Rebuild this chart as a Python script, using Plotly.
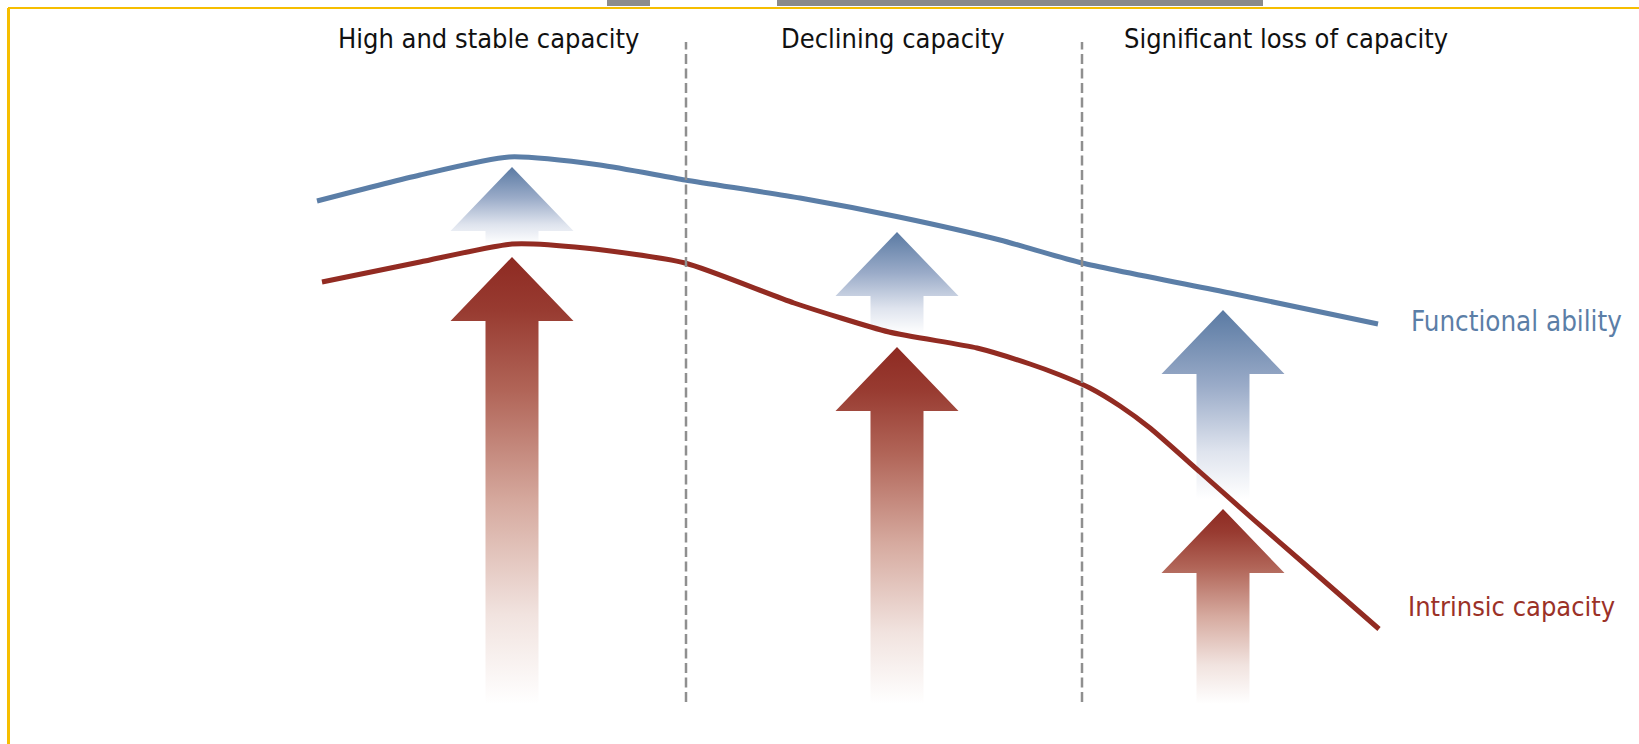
import plotly.graph_objects as go

W, H = 1639, 744

# ---- data (x: horizontal position along life course, y: level, measured upward) ----
functional_x = [317, 420, 509, 600, 685, 800, 899, 1000, 1082, 1230, 1378]
functional_level = [543, 569, 587, 579, 564, 546, 527, 504, 481, 451, 420]

intrinsic_x = [322, 420, 512, 585, 685, 794, 889, 977, 1030, 1060, 1090, 1120, 1150, 1200, 1254, 1300, 1379]
intrinsic_level = [462, 482, 500, 496, 481, 441, 412, 396, 380, 369, 356, 338, 316, 272, 224, 184, 115]

stage_names = ["High and stable capacity", "Declining capacity", "Significant loss of capacity"]
stage_label_x = [488, 893, 1286]
stage_bounds_x = [686, 1082]

arrow_x = [512, 897, 1223]
blue_tip = [577, 512, 434]
blue_bottom = [500, 410, 245]
red_tip = [487, 397, 235]
red_bottom = [40, 40, 40]

series_names = ["Functional ability", "Intrinsic capacity"]

# ---- styles ----
BLUE = "#5b7ea7"
RED = "#922b22"
HEAD_HALF = 61.5
SHAFT_HALF = 26.5
HEAD_LEN = 64

fig = go.Figure()


def arrow_trace(cx, tip, bottom, scale):
    base = tip - HEAD_LEN
    xs = [cx, cx + HEAD_HALF, cx + SHAFT_HALF, cx + SHAFT_HALF,
          cx - SHAFT_HALF, cx - SHAFT_HALF, cx - HEAD_HALF, cx]
    ys = [tip, base, base, bottom, bottom, base, base, tip]
    return go.Scatter(
        x=xs, y=ys, mode="lines", fill="toself",
        line=dict(width=0, color="rgba(0,0,0,0)"),
        fillgradient=dict(type="vertical", colorscale=scale, start=bottom, stop=tip),
        hoverinfo="skip", showlegend=False,
    )


blue_scale = [[0, "rgba(255,255,255,1)"], [0.25, "#dfe4ee"], [0.6, "#9aabc8"], [1, "#5a7aa3"]]
red_scale = [[0, "rgba(255,255,255,1)"], [0.2, "#f1e3df"], [0.45, "#d6aa9f"],
             [0.7, "#b16558"], [0.88, "#983b31"], [1, "#8e2a22"]]

for cx, t, b in zip(arrow_x, blue_tip, blue_bottom):
    fig.add_trace(arrow_trace(cx, t, b, blue_scale))
for cx, t, b in zip(arrow_x, red_tip, red_bottom):
    fig.add_trace(arrow_trace(cx, t, b, red_scale))

fig.add_trace(go.Scatter(
    x=functional_x, y=functional_level, mode="lines",
    line=dict(color=BLUE, width=5, shape="spline", smoothing=0.6),
    hoverinfo="skip", showlegend=False, name=series_names[0]))
fig.add_trace(go.Scatter(
    x=intrinsic_x, y=intrinsic_level, mode="lines",
    line=dict(color=RED, width=5, shape="spline", smoothing=0.6),
    hoverinfo="skip", showlegend=False, name=series_names[1]))

FONT = "Liberation Sans Narrow, DejaVu Sans Condensed, Roboto Condensed, Arial Narrow, sans-serif"

annotations = []
for name, x in zip(stage_names, stage_label_x):
    annotations.append(dict(x=x, y=H - 38, text=name, showarrow=False, xanchor="center",
                            yanchor="middle", font=dict(family=FONT, size=27, color="#111111")))
annotations.append(dict(x=1409, y=H - 321, text=series_names[0], showarrow=False, xanchor="left",
                        yanchor="middle", font=dict(family=FONT, size=27.5, color=BLUE)))
annotations.append(dict(x=1406, y=H - 606, text=series_names[1], showarrow=False, xanchor="left",
                        yanchor="middle", font=dict(family=FONT, size=27, color="#9b3127")))

shapes = []
for bx in stage_bounds_x:
    shapes.append(dict(type="line", x0=bx, x1=bx, y0=H - 702, y1=H - 42,
                       line=dict(color="#8f8f8f", width=2.5, dash="10px,4.5px")))
# frame
shapes.append(dict(type="line", x0=8, x1=W, y0=H - 8, y1=H - 8, line=dict(color="#F6BE00", width=2)))
shapes.append(dict(type="line", x0=8.5, x1=8.5, y0=0, y1=H - 8, line=dict(color="#F6BE00", width=3)))
# cropped photo remnants at the top
shapes.append(dict(type="rect", x0=607, x1=650, y0=H - 6, y1=H, line=dict(width=0), fillcolor="#8c8c8c"))
shapes.append(dict(type="rect", x0=777, x1=1263, y0=H - 6, y1=H, line=dict(width=0), fillcolor="#8a8a8a"))

fig.update_layout(
    width=W, height=H, margin=dict(l=0, r=0, t=0, b=0),
    paper_bgcolor="white", plot_bgcolor="white",
    xaxis=dict(range=[0, W], visible=False, fixedrange=True),
    yaxis=dict(range=[0, H], visible=False, fixedrange=True),
    annotations=annotations, shapes=shapes,
)

fig.write_html("out.html", config={"displayModeBar": False},
               post_script="document.body.style.margin='0px';")
